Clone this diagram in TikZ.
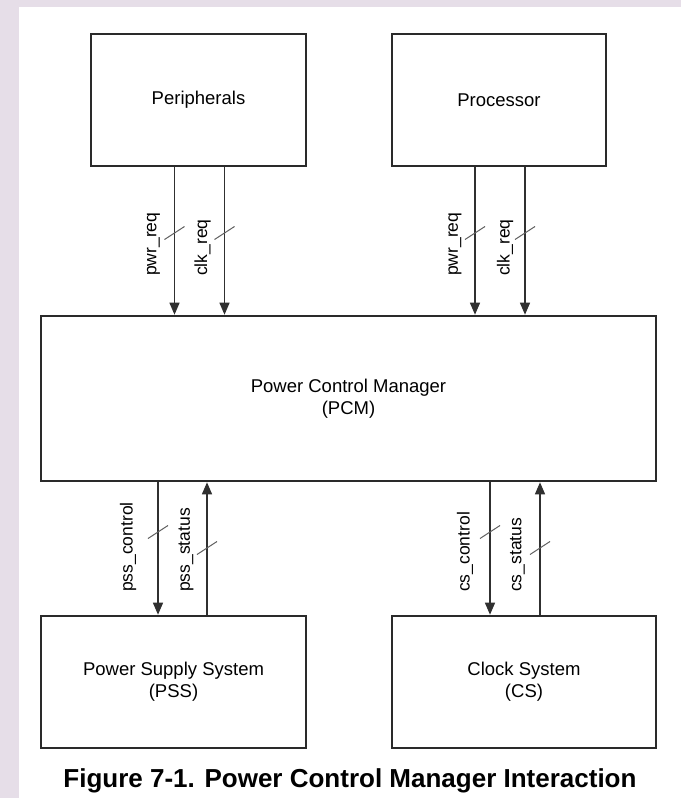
\documentclass[tikz,border=0pt]{standalone}
\usepackage{fontspec}
\setmainfont{Liberation Sans}
\usetikzlibrary{arrows.meta,calc}
\definecolor{lav}{HTML}{E6DEE8}
\definecolor{yel}{HTML}{F0EEDC}
\definecolor{linec}{HTML}{2A2A2A}
\definecolor{arrc}{HTML}{303030}
\definecolor{slc}{HTML}{606060}
\tikzset{
  box/.style={draw=linec, line width=2.6pt, fill=white, inner sep=0pt, align=center,
    font=\fontsize{18.5}{22}\selectfont},
  sig/.style={draw=arrc, line width=1.3pt, -{Triangle[length=12pt,width=10pt]}},
  slashmark/.style={draw=slc, line width=1pt},
  siglabel/.style={rotate=90, anchor=west, inner sep=0pt, font=\fontsize{17.5}{20}\selectfont},
  caption/.style={font=\bfseries\fontsize{26}{30}\selectfont, inner sep=0pt}
}
\begin{document}
\begin{tikzpicture}[x=1pt,y=-1pt]
\useasboundingbox (0,0) rectangle (681,798);
% background
\fill[lav] (0,0) rectangle (681,798);
\shade[top color=lav, middle color=yel, bottom color=lav] (0,0) rectangle (19,798);
\fill[white] (19,7) rectangle (681,798);

% boxes
\node[box, minimum width=215pt, minimum height=132pt] (per) at (198.5,100) {Peripherals};
\node[box, minimum width=214pt, minimum height=132pt] (proc) at (499,100) {Processor};
\node[box, minimum width=615pt, minimum height=165pt] (pcm) at (348.5,398.5) {Power Control Manager\\(PCM)};
\node[box, minimum width=265pt, minimum height=132pt] (pss) at (173.5,682) {Power Supply System\\(PSS)};
\node[box, minimum width=264pt, minimum height=132pt] (cs) at (524,682) {Clock System\\(CS)};

% top connectors
\coordinate (a1) at ([xshift=-24pt]per.south);
\coordinate (a2) at ([xshift=26pt]per.south);
\coordinate (a3) at ([xshift=-24pt]proc.south);
\coordinate (a4) at ([xshift=26pt]proc.south);
\foreach \c in {a1,a2,a3,a4}{
  \draw[sig] (\c) -- (\c |- pcm.north);
  \draw[slashmark] ($(\c |- 0,233)+(-10,6.5)$) -- ($(\c |- 0,233)+(10,-6.5)$);
}
\node[siglabel] (l1) at ($(a1 |- 0,276)+(-21,0)$) {pwr\_req};
\node[siglabel] (l2) at ($(a2 |- 0,276)+(-22,0)$) {clk\_req};
\node[siglabel] (l3) at ($(a3 |- 0,276)+(-20,0)$) {pwr\_req};
\node[siglabel] (l4) at ($(a4 |- 0,276)+(-20,0)$) {clk\_req};

% bottom connectors
\coordinate (b1) at ([xshift=-15.5pt]pss.north);
\coordinate (b2) at ([xshift=33.5pt]pss.north);
\coordinate (b3) at ([xshift=-34pt]cs.north);
\coordinate (b4) at ([xshift=16pt]cs.north);
\draw[sig] (b1 |- pcm.south) -- (b1);
\draw[sig] (b2) -- (b2 |- pcm.south);
\draw[sig] (b3 |- pcm.south) -- (b3);
\draw[sig] (b4) -- (b4 |- pcm.south);
\foreach \c in {b1,b3}{
  \draw[slashmark] ($(\c |- 0,532)+(-10,6.5)$) -- ($(\c |- 0,532)+(10,-6.5)$);
}
\foreach \c in {b2,b4}{
  \draw[slashmark] ($(\c |- 0,548)+(-10,6.5)$) -- ($(\c |- 0,548)+(10,-6.5)$);
}
\node[siglabel] (l5) at ($(b1 |- 0,592)+(-30,0)$) {pss\_control};
\node[siglabel] (l6) at ($(b2 |- 0,592)+(-21,0)$) {pss\_status};
\node[siglabel] (l7) at ($(b3 |- 0,592)+(-25,0)$) {cs\_control};
\node[siglabel] (l8) at ($(b4 |- 0,592)+(-22.5,0)$) {cs\_status};

% caption
\node[caption] (cap) at (350,781) {Figure 7-1. Power Control Manager Interaction};
\end{tikzpicture}
\end{document}
